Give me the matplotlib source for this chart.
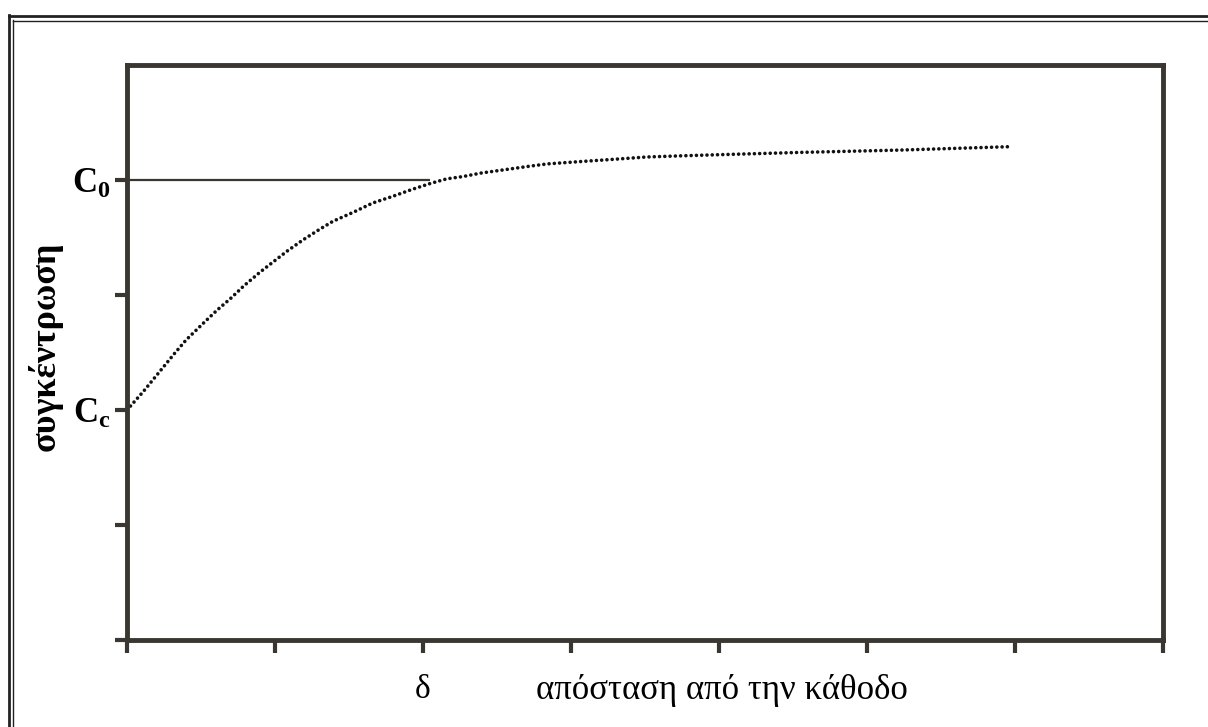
import matplotlib.pyplot as plt
from matplotlib.lines import Line2D

plt.rcParams['font.family'] = ['Liberation Serif', 'DejaVu Serif']
plt.rcParams['mathtext.fontset'] = 'custom'
plt.rcParams['mathtext.rm'] = 'Liberation Serif'
plt.rcParams['mathtext.bf'] = 'Liberation Serif:bold'

# concentration profile
dist = [0.0, 0.11, 0.18, 0.25, 0.32, 0.40, 0.52, 0.61, 0.70, 0.79, 0.90, 0.99,
        1.08, 1.19, 1.30, 1.39, 1.53, 1.66, 1.80, 1.93, 2.05, 2.16, 2.27, 2.39, 2.50,
        2.61, 2.72, 2.84, 2.95, 3.06, 3.29, 3.51, 3.74, 4.00, 4.55, 5.22, 5.97]
conc = [2.0, 2.16, 2.27, 2.38, 2.49, 2.61, 2.76, 2.87, 2.97, 3.08, 3.20, 3.29,
        3.38, 3.48, 3.57, 3.64, 3.72, 3.80, 3.86, 3.92, 3.97, 4.01, 4.03, 4.06, 4.08,
        4.10, 4.12, 4.14, 4.15, 4.16, 4.18, 4.20, 4.21, 4.22, 4.24, 4.26, 4.29]

c0 = 4.0
cc = 2.0
delta = 2.0
yticks = [0, 1, 2, 3, 4]
ylabels = ['', '', r'$\mathbf{C_c}$', '', r'$\mathbf{C_0}$']
xticks = [0, 1, 2, 3, 4, 5, 6, 7]

dark = '#3a3631'

fig = plt.figure(figsize=(12.08, 7.27), dpi=100)
ax = fig.add_axes([127/1208, 87/727, 1036/1208, 575/727])

ax.plot([0, 2.05], [c0, c0], color=dark, lw=1.6, solid_capstyle='butt')
ax.plot(dist, conc, color='#111111', lw=2.6, linestyle=(0, (0.01, 1.45)),
        dash_capstyle='round')

ax.set_xlim(0, 7)
ax.set_ylim(0, 5)
ax.set_xticks(xticks)
ax.set_xticklabels([''] * len(xticks))
ax.set_yticks(yticks)
ax.set_yticklabels(ylabels, fontsize=25)
ax.tick_params(axis='both', direction='out', length=9, width=3, color=dark, pad=3)

for s in ax.spines.values():
    s.set_color(dark)
    s.set_linewidth(3.5)

ax.text(delta / 7, -0.087, 'δ', transform=ax.transAxes, ha='center', va='center',
        fontsize=24)
ax.text(0.574, -0.087, 'απόσταση από την κάθοδο', transform=ax.transAxes,
        ha='center', va='center', fontsize=25)
fig.text(45/1208, 1 - 346/727, 'συγκέντρωση', rotation=90, ha='center', va='center',
         fontsize=26, fontweight='bold')

# double frame around the figure (runs off the right and bottom edges)
for xp, lw in [(8.5, 2.0), (12.5, 1.0)]:
    fig.add_artist(Line2D([xp/1208, xp/1208], [0, 1 - (15 if lw > 1.5 else 20)/727],
                          transform=fig.transFigure, color='#222222', lw=lw))
for yp, lw in [(15.5, 2.0), (20.5, 1.0)]:
    x0 = 8.5 if lw > 1.5 else 12.5
    fig.add_artist(Line2D([x0/1208, 1], [1 - yp/727, 1 - yp/727],
                          transform=fig.transFigure, color='#222222', lw=lw))

fig.savefig('out.png', dpi=100)
